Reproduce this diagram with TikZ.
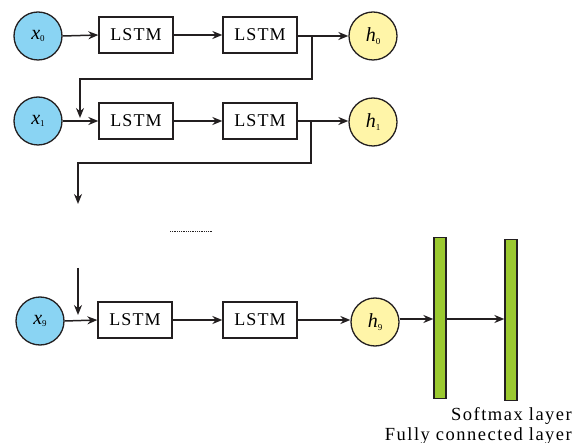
\documentclass[tikz,border=0pt]{standalone}
\usepackage{fontspec}
\setmainfont{Liberation Serif}
\usetikzlibrary{arrows.meta}
\definecolor{cblue}{RGB}{138,212,243}
\definecolor{cyel}{RGB}{255,245,168}
\definecolor{cgreen}{RGB}{155,201,48}
\definecolor{cline}{RGB}{35,31,32}
\newcommand{\lbl}[2]{\textit{#1}\raisebox{-2.5pt}{\fontsize{9}{10}\selectfont #2}}
\tikzset{
  inp/.style={circle,draw=cline,line width=1.3pt,fill=cblue,minimum size=48pt,inner sep=0pt,font=\fontsize{20}{22}\selectfont},
  outp/.style={circle,draw=cline,line width=1.3pt,fill=cyel,minimum size=48pt,inner sep=0pt,font=\fontsize{20}{22}\selectfont},
  lstm/.style={rectangle,draw=cline,line width=1.3pt,fill=white,minimum width=74pt,minimum height=36pt,inner sep=0pt,font=\fontsize{18}{20}\selectfont\addfontfeatures{LetterSpace=6}},
  bar/.style={rectangle,draw=cline,line width=1.3pt,fill=cgreen,minimum width=12pt,minimum height=161pt,inner sep=0pt},
  conn/.style={draw=cline,line width=1.5pt},
  arr/.style={conn,-{Stealth[length=10pt,width=8pt]}},
  lab/.style={font=\fontsize{18.5}{20}\selectfont\addfontfeatures{LetterSpace=8},inner sep=0pt}
}
\begin{document}
\begin{tikzpicture}[x=1pt,y=-1pt]
\useasboundingbox (0,0) rectangle (572,443);
% row 0
\node[inp] (x0) at (38,36) {\lbl{x}{0}};
\node[lstm] (a0) at (136,35) {LSTM};
\node[lstm] (b0) at (260,35) {LSTM};
\node[outp] (h0) at (373,36) {\lbl{h}{0}};
% row 1
\node[inp] (x1) at (38,121) {\lbl{x}{1}};
\node[lstm] (a1) at (136,121) {LSTM};
\node[lstm] (b1) at (260,121) {LSTM};
\node[outp] (h1) at (373,122) {\lbl{h}{1}};
% row 9
\node[inp] (x9) at (40,321) {\lbl{x}{9}};
\node[lstm] (a9) at (135,320) {LSTM};
\node[lstm] (b9) at (260,320) {LSTM};
\node[outp] (h9) at (375,322) {\lbl{h}{9}};
% bars
\node[bar] (fc) at (440,318) {};
\node[bar] (sm) at (511,320) {};
% labels
\node[lab,anchor=base east] (lsm) at (572,420) {Softmax layer};
\node[lab,anchor=base east] (lfc) at (572,440) {Fully connected layer};
% connectors row 0
\draw[arr] (x0.east) -- (a0.west);
\draw[arr] (a0.east) -- (b0.west);
\draw[arr] (b0.east |- 0,36) -- (h0.west);
\coordinate (s0) at (312,36);
\coordinate (s0b) at (312,79);
\coordinate (s0c) at (80,79);
\coordinate (e0) at (80,118);
\draw[arr] (s0) -- (s0b) -- (s0c) -- (e0);
% row 1
\draw[arr] (x1.east) -- (a1.west);
\draw[arr] (a1.east) -- (b1.west);
\draw[arr] (b1.east) -- (h1.west |- 0,121);
\coordinate (s1) at (311,121);
\coordinate (s1b) at (311,163);
\coordinate (s1c) at (78,163);
\coordinate (e1) at (78,204);
\draw[arr] (s1) -- (s1b) -- (s1c) -- (e1);
% dots
\coordinate (d1) at (170,232);
\coordinate (d2) at (212,232);
\draw[cline,line width=1pt,dash pattern=on 0.9pt off 0.9pt] (d1) -- (d2);
% row 9
\coordinate (t9) at (78,268);
\coordinate (e9) at (78,315);
\draw[arr] (t9) -- (e9);
\draw[arr] (x9.east) -- (a9.west);
\draw[arr] (a9.east) -- (b9.west);
\draw[arr] (b9.east) -- (h9.west |- 0,320);
\draw[arr] (h9.east |- 0,319) -- (fc.west |- 0,319);
\draw[arr] (fc.east |- 0,319) -- (sm.west |- 0,319);
\end{tikzpicture}
\end{document}
